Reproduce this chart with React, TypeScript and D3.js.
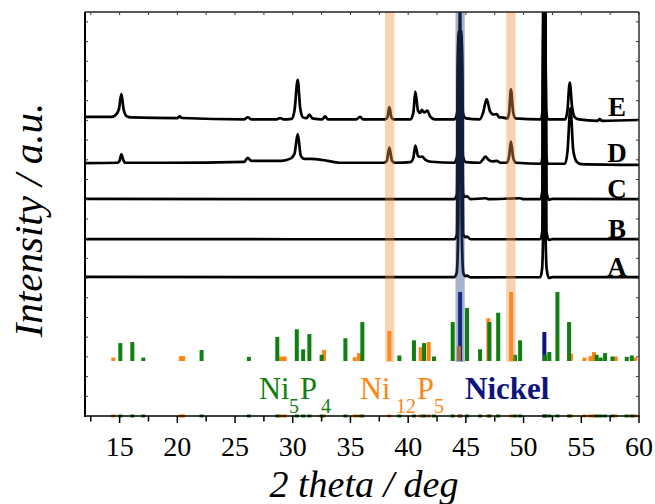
import React from 'react';
import * as d3 from 'd3';

// ---------- data (2θ in deg, intensity in a.u. with stacking offsets) ----------
const xTickLabels = [15, 20, 25, 30, 35, 40, 45, 50, 55, 60];
const sampleLabels = ['E', 'D', 'C', 'B', 'A'];
const sampleLabelLevels = [15.18, 12.83, 11.02, 8.98, 7.06];

const traceE: number[][] = [
  [12, 15.18], [14.3, 15.18], [14.7, 15.3], [14.95, 15.6], [15.15, 16.33], [15.35, 15.55], [15.6, 15.22], [16, 15.15],
  [20.0, 15.12], [20.2, 15.2], [20.4, 15.12], [25.8, 15.05], [26.1, 15.16], [26.4, 15.05],
  [28.6, 15.05], [28.9, 15.12], [29.2, 15.05], [29.9, 15.08], [30.15, 15.5], [30.43, 17.06], [30.65, 15.6], [30.9, 15.15],
  [31.2, 15.12], [31.44, 15.3], [31.7, 15.1], [32.55, 15.05], [32.8, 15.2], [33.05, 15.05],
  [35.5, 15.05], [35.83, 15.18], [36.1, 15.05], [38.0, 15.05], [38.2, 15.15], [38.37, 15.67], [38.55, 15.15], [38.75, 15.05],
  [40.2, 15.05], [40.45, 15.4], [40.62, 16.46], [40.85, 15.5], [41.05, 15.38], [41.18, 15.53], [41.4, 15.4], [41.66, 15.5],
  [41.9, 15.2], [42.3, 15.05], [44.0, 15.05], [44.25, 15.4], [44.36, 19.3], [44.62, 19.3], [44.74, 15.4], [45.0, 15.1],
  [46.2, 15.05], [46.5, 15.4], [46.8, 16.08], [47.1, 15.45], [47.4, 15.3], [47.67, 15.32], [47.9, 15.15], [48.1, 15.15],
  [48.6, 15.1], [48.75, 15.4], [48.9, 16.58], [49.1, 15.4], [49.3, 15.1], [51.5, 15.05], [51.66, 15.6], [51.74, 21.5],
  [51.86, 21.5], [51.94, 15.6], [52.1, 15.05], [53.6, 15.05], [53.8, 15.5], [54.0, 16.92], [54.2, 15.7], [54.45, 15.15],
  [54.8, 15.05], [56.4, 14.98], [56.6, 15.06], [56.8, 14.98], [60, 15.02],
];

const traceD: number[][] = [
  [12, 12.83], [14.8, 12.85], [15.0, 12.95], [15.15, 13.28], [15.35, 12.95], [15.5, 12.85], [19, 12.85],
  [25.8, 12.9], [26.1, 13.1], [26.4, 12.95], [29.0, 12.95], [29.8, 13.06], [30.15, 13.3], [30.43, 14.3], [30.7, 13.2],
  [31.0, 13.05], [31.5, 13.05], [33, 12.95], [34, 12.85], [37.9, 12.85], [38.15, 12.95], [38.37, 13.62], [38.6, 12.95],
  [38.85, 12.85], [40.2, 12.88], [40.45, 13.1], [40.62, 13.72], [40.85, 13.2], [41.0, 13.15], [41.2, 13.16], [41.5, 13.0],
  [42.0, 12.9], [44.0, 12.85], [44.25, 13.2], [44.36, 19.3], [44.62, 19.3], [44.74, 13.2], [45.0, 12.88], [46.2, 12.85],
  [46.45, 13.0], [46.7, 13.16], [46.95, 13.0], [47.3, 12.92], [47.67, 12.95], [48.0, 12.85], [48.55, 12.85], [48.75, 13.2],
  [48.9, 13.92], [49.1, 13.1], [49.35, 12.85], [51.5, 12.8], [51.66, 13.3], [51.74, 21.5], [51.86, 21.5], [51.94, 13.3],
  [52.1, 12.8], [53.6, 12.8], [53.8, 13.4], [54.06, 15.63], [54.3, 13.5], [54.6, 12.9], [55, 12.78], [60, 12.74],
];

const traceC: number[][] = [
  [12, 11.02], [30, 11.0], [44.0, 11.0], [44.22, 11.25], [44.36, 19.3], [44.62, 19.3], [44.76, 11.3], [44.95, 11.12],
  [45.1, 11.15], [45.4, 11.0], [46.7, 11.05], [47, 11.0], [49.7, 11.05], [50, 11.0], [51.45, 11.0], [51.62, 11.4],
  [51.72, 21.5], [51.88, 21.5], [51.98, 11.4], [52.2, 10.97], [52.5, 11.02], [60, 11.0],
];

const traceB: number[][] = [
  [12, 8.98], [30, 8.97], [44.0, 8.97], [44.22, 9.2], [44.38, 19.5], [44.6, 19.5], [44.76, 9.25], [44.95, 9.08],
  [45.1, 9.1], [45.4, 8.97], [51.45, 8.97], [51.62, 9.35], [51.72, 21.5], [51.88, 21.5], [51.98, 9.35], [52.2, 8.94],
  [52.5, 8.98], [60, 8.97],
];

const traceA: number[][] = [
  [12, 7.06], [30, 7.05], [44.0, 7.05], [44.2, 7.25], [44.34, 9.5], [44.5, 21.5], [44.64, 9.5], [44.78, 7.25],
  [44.95, 7.1], [45.1, 7.12], [45.4, 7.03], [51.45, 7.05], [51.6, 7.45], [51.7, 9.5], [51.8, 21.5], [51.9, 9.5],
  [52.0, 7.45], [52.2, 7.0], [52.5, 7.05], [60, 7.05],
];

const traces = [traceE, traceD, traceC, traceB, traceA];

// reference stick patterns: [2θ, relative intensity %]
const nickelSticks: number[][] = [[44.5, 100], [51.8, 42]];
const ni12p5Sticks: number[][] = [
  [14.45, 5], [20.3, 7], [20.5, 7], [29.0, 6.5], [29.3, 6.5], [32.7, 16], [35.37, 5.5], [35.74, 11.5], [38.37, 43.5],
  [41.09, 20], [41.78, 27.5], [44.4, 22], [46.95, 62], [48.92, 100], [54.1, 11], [55.27, 5], [55.8, 7], [56.1, 13],
  [57.98, 6.5], [59.66, 5],
];
const ni5p4Sticks: number[][] = [
  [15.06, 26], [16.1, 27.5], [17.05, 5], [22.1, 16], [26.2, 6], [28.66, 35], [30.35, 46], [30.9, 17], [31.44, 39],
  [32.5, 9], [34.56, 33], [36.03, 56.5], [39.24, 8], [40.5, 30], [41.38, 26], [42.24, 6.5], [43.86, 56.5], [45.1, 77],
  [46.23, 17], [47.04, 56.5], [47.8, 70], [49.26, 9], [49.7, 30], [51.86, 9], [52.23, 13], [52.93, 100], [53.94, 56.5],
  [56.33, 9], [56.68, 5], [57.06, 11.5], [57.7, 6.5], [58.94, 6], [59.37, 8],
];

// highlighted reflections
const bandCenters = [38.4, 44.5, 48.9];
const bandKinds = ['ni12p5', 'nickel', 'ni12p5'];

// ---------- styling ----------
const GREEN = '#0f800f';
const ORANGE = '#ff8512';
const NAVY = '#0c1480';
const SERIF = '"Liberation Serif", "Times New Roman", serif';

export default function App() {
  const left = 85, right = 639, top = 12, bottom = 416;
  const x = d3.scaleLinear().domain([12, 60]).range([left, right]);
  const y = d3.scaleLinear().domain([0, 20.5]).range([bottom, top]);
  const stickBase = 2.79;
  const sy = d3.scaleLinear().domain([0, 100]).range([y(stickBase), y(stickBase + 3.5)]);
  const line = d3.line<number[]>().x(d => x(d[0])).y(d => y(d[1])).curve(d3.curveMonotoneX);

  const minorX = d3.range(12.5, 60.01, 2.5);
  const yTicks = d3.range(1, 21, 1);

  const stickGroups: [number[][], string][] = [
    [nickelSticks, NAVY],
    [ni12p5Sticks, ORANGE],
    [ni5p4Sticks, GREEN],
  ];

  const bandFill = (k: string) => (k === 'nickel' ? 'rgb(37,73,134)' : 'rgb(244,146,61)');
  const bandHalf = (x(0.8) - x(0)) / 2;

  return (
    <svg width={655} height={504} style={{ position: 'absolute', left: 0, top: 0, background: '#fff' }}>
      <defs>
        <clipPath id="plotclip">
          <rect x={left} y={top} width={right - left} height={bottom - top} />
        </clipPath>
      </defs>
      <rect x={0} y={0} width={655} height={504} fill="#fff" />

      {/* sticks */}
      <g clipPath="url(#plotclip)">
        {stickGroups.map(([arr, col], gi) =>
          arr.map((d, i) => (
            <rect key={`s${gi}-${i}`} x={x(d[0]) - 2} y={sy(d[1])} width={4} height={sy(0) - sy(d[1])} fill={col} />
          ))
        )}
      </g>

      {/* traces */}
      <g clipPath="url(#plotclip)">
        {traces.map((t, i) => (
          <path key={i} d={line(t) || ''} fill="none" stroke="#000" strokeWidth={2.7} strokeLinejoin="round" />
        ))}
      </g>

      {/* highlight bands */}
      <g>
        {bandCenters.map((c, i) => (
          <rect
            key={i}
            x={x(c) - bandHalf}
            y={y(20.5)}
            width={bandHalf * 2}
            height={y(2.74) - y(20.5)}
            fill={bandFill(bandKinds[i])}
            fillOpacity={0.41}
          />
        ))}
      </g>

      {/* sample labels */}
      {sampleLabels.map((s, i) => (
        <text
          key={s}
          x={617}
          y={y(sampleLabelLevels[i]) - 1}
          textAnchor="middle"
          fontFamily={SERIF}
          fontWeight="bold"
          fontSize={27}
          fill="#000"
        >
          {s}
        </text>
      ))}

      {/* phase legend */}
      <text y={399} fontFamily={SERIF} fontSize={30.5} fill={GREEN}>
        <tspan x={259}>Ni</tspan>
        <tspan x={289} y={413} fontSize={20}>5</tspan>
        <tspan x={300} y={399}>P</tspan>
        <tspan x={321} y={413} fontSize={20}>4</tspan>
      </text>
      <text y={399} fontFamily={SERIF} fontSize={30.5} fill={ORANGE}>
        <tspan x={360}>Ni</tspan>
        <tspan x={396} y={413} fontSize={20}>12</tspan>
        <tspan x={417} y={399}>P</tspan>
        <tspan x={434} y={413} fontSize={20}>5</tspan>
      </text>
      <text x={465} y={399} fontFamily={SERIF} fontSize={31} fontWeight="bold" fill={NAVY}>
        Nickel
      </text>

      {/* colored markers on baseline axis */}
      {stickGroups.map(([arr, col], gi) =>
        arr.map((d, i) => (
          <rect key={`m${gi}-${i}`} x={x(d[0]) - 2} y={y(0) - 1.5} width={4} height={3} fill={col} />
        ))
      )}

      {/* frame */}
      <line x1={left} x2={right} y1={top} y2={top} stroke="#222" strokeWidth={1.4} />
      <line x1={right} x2={right} y1={top} y2={bottom} stroke="#222" strokeWidth={1.4} />
      <line x1={left} x2={left} y1={top} y2={bottom + 1} stroke="#000" strokeWidth={2} />
      <line x1={left - 1} x2={right + 0.7} y1={bottom} y2={bottom} stroke="#000" strokeWidth={1.6} />

      {/* x ticks (bottom outward, top inward) */}
      {minorX.map(v => {
        const major = xTickLabels.includes(v);
        return (
          <g key={v}>
            <line x1={x(v)} x2={x(v)} y1={bottom} y2={bottom + (major ? 7 : 5.5)} stroke="#000" strokeWidth={1.5} />
            <line x1={x(v)} x2={x(v)} y1={top} y2={top + 3} stroke="#333" strokeWidth={1} />
          </g>
        );
      })}
      {/* y ticks (inward) */}
      {yTicks.map(v => (
        <g key={v}>
          <line x1={left} x2={left + 3} y1={y(v)} y2={y(v)} stroke="#333" strokeWidth={1} />
          <line x1={right} x2={right - 3} y1={y(v)} y2={y(v)} stroke="#333" strokeWidth={1} />
        </g>
      ))}

      {/* x tick labels */}
      {xTickLabels.map(v => (
        <text key={v} x={x(v)} y={456} textAnchor="middle" fontFamily={SERIF} fontSize={28} fill="#000">
          {v}
        </text>
      ))}

      {/* axis titles */}
      <text x={364} y={497} textAnchor="middle" fontFamily={SERIF} fontStyle="italic" fontSize={38} fill="#000">
        2 theta / deg
      </text>
      <text
        transform="translate(42,220) rotate(-90)"
        textAnchor="middle"
        fontFamily={SERIF}
        fontStyle="italic"
        fontSize={41}
        fill="#000"
      >
        Intensity / a.u.
      </text>
    </svg>
  );
}
